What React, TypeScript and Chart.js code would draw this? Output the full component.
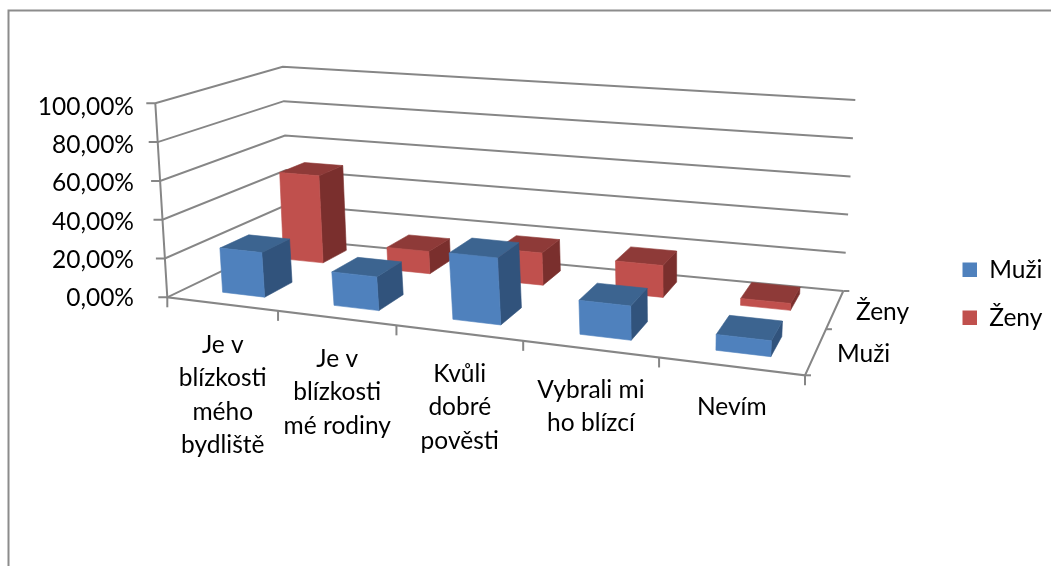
import React, { useEffect, useRef } from "react";
import { Chart, registerables } from "chart.js";

Chart.register(...registerables);

const categories: string[][] = [
  ["Je v", "blízkosti", "mého", "bydliště"],
  ["Je v", "blízkosti", "mé rodiny"],
  ["Kvůli", "dobré", "pověsti"],
  ["Vybrali mi", "ho blízcí"],
  ["Nevím"],
];
const muzi = [23, 17, 33, 16.5, 7.5];
const zeny = [48, 12, 17, 16.5, 3.5];
const seriesNames = ["Muži", "Ženy"];
const tickValues = [0, 20, 40, 60, 80, 100];

const FONT = "Lato";
const FONT_SIZE = 24.5;
const GRID = "#868686";
const FACES = [
  { front: "#4F81BD", top: "#3C6490", side: "#31537C" },
  { front: "#C0504D", top: "#8E3A38", side: "#7A2F2D" },
];
const DEPTH_START = [0.28, 0.36];
const DEPTH_SIZE = 0.45;
const ACROSS_SHIFT = [0.006, -0.002];
type P = [number, number];
// floor and ceiling corners: front-left, front-right, back-right, back-left
const FLOOR: P[] = [[167.3, 297.3], [805, 375.3], [843.3, 291], [288.5, 239]];
const CEIL: P[] = [[155.3, 103.3], [817.5, 157.3], [855.3, 100], [282.7, 66.7]];

function homography(q: P[]) {
  const [[x0, y0], [x1, y1], [x2, y2], [x3, y3]] = q;
  const sx = x0 - x1 + x2 - x3, sy = y0 - y1 + y2 - y3;
  const dx1 = x1 - x2, dy1 = y1 - y2, dx2 = x3 - x2, dy2 = y3 - y2;
  const den = dx1 * dy2 - dx2 * dy1;
  const g = (sx * dy2 - dx2 * sy) / den, h = (dx1 * sy - sx * dy1) / den;
  const a = x1 - x0 + g * x1, b = x3 - x0 + h * x3, d = y1 - y0 + g * y1, e = y3 - y0 + h * y3;
  return (u: number, v: number): P => {
    const w = g * u + h * v + 1;
    return [(a * u + b * v + x0) / w, (d * u + e * v + y0) / w];
  };
}
const floorH = homography(FLOOR);
const ceilH = homography(CEIL);
const project = (u0: number, v: number, z: number): P => {
  const u = u0 + 0.06 * u0 * (1 - u0);
  const f = floorH(u, v), c = ceilH(u, v);
  return [f[0] + (c[0] - f[0]) * z, f[1] + (c[1] - f[1]) * z];
};

const polyline = (ctx: CanvasRenderingContext2D, pts: P[], color: string, width: number) => {
  ctx.beginPath();
  pts.forEach((p, i) => (i ? ctx.lineTo(p[0], p[1]) : ctx.moveTo(p[0], p[1])));
  ctx.strokeStyle = color;
  ctx.lineWidth = width;
  ctx.stroke();
};
const face = (ctx: CanvasRenderingContext2D, pts: P[], color: string) => {
  ctx.beginPath();
  pts.forEach((p, i) => (i ? ctx.lineTo(p[0], p[1]) : ctx.moveTo(p[0], p[1])));
  ctx.closePath();
  ctx.fillStyle = color;
  ctx.strokeStyle = color;
  ctx.lineWidth = 0.6;
  ctx.fill();
  ctx.stroke();
};

const scene3d = {
  id: "scene3d",
  afterLayout(chart: any) {
    const lg = chart.legend;
    const pad = lg.options.labels.padding;
    lg.left = 962.5 - pad;
    lg.top = 257.5 - pad;
    lg.bottom = lg.top + 200;
  },
  beforeDatasetDraw() {
    return false; // the bars are drawn as boxes below, from their own elements
  },
  beforeDatasetsDraw(chart: any) {
    const { ctx, chartArea: ca, scales } = chart;
    const y = scales.y;
    const zOf = (px: number) => (ca.bottom - px) / (ca.bottom - ca.top);
    ctx.save();
    // outer frame
    polyline(ctx, [[8.5, 566], [8.5, 10.5], [1051, 10.5]], "#8C8C8C", 2);
    // walls
    y.ticks.forEach((t: any) => {
      const z = zOf(y.getPixelForValue(t.value));
      const a = project(0, 0, z);
      polyline(ctx, [[a[0] - 9, a[1]], a, project(0, 1, z), project(1, 1, z)], GRID, 2);
    });
    // floor edges and axes
    polyline(ctx, [project(0, 0, 1), project(0, 0, 0), project(1, 0, 0), project(1, 1, 0)], GRID, 2);
    const n = categories.length;
    for (let i = 0; i <= n; i++) {
      const p = project(i / n, 0, 0);
      polyline(ctx, [p, [p[0], p[1] + 10]], GRID, 2);
    }
    for (let s = 0; s <= seriesNames.length; s++) {
      const p = project(1, s / seriesNames.length, 0);
      polyline(ctx, [p, [p[0] + 6, p[1]]], GRID, 2);
    }
    // boxes, back series first
    const W = ca.right - ca.left;
    const S = chart.data.datasets.length;
    for (let s = S - 1; s >= 0; s--) {
      const v0 = (s + DEPTH_START[s]) / S, v1 = (s + DEPTH_START[s] + DEPTH_SIZE) / S;
      chart.getDatasetMeta(s).data.forEach((el: any) => {
        const u0 = (el.x - el.width / 2 - ca.left) / W + ACROSS_SHIFT[s];
        const u1 = (el.x + el.width / 2 - ca.left) / W + ACROSS_SHIFT[s];
        const z = zOf(el.y);
        const c = FACES[s];
        face(ctx, [project(u1, v0, 0), project(u1, v1, 0), project(u1, v1, z), project(u1, v0, z)], c.side);
        face(ctx, [project(u0, v0, z), project(u1, v0, z), project(u1, v1, z), project(u0, v1, z)], c.top);
        face(ctx, [project(u0, v0, 0), project(u1, v0, 0), project(u1, v0, z), project(u0, v0, z)], c.front);
      });
    }
    // category labels
    ctx.fillStyle = "#000";
    ctx.font = `${FONT_SIZE}px ${FONT}`;
    ctx.textAlign = "center";
    ctx.textBaseline = "middle";
    chart.data.labels.forEach((lines: string[], i: number) => {
      const p = project((scales.x.getPixelForValue(i) - ca.left) / W, 0, 0);
      lines.forEach((line, k) => ctx.fillText(line, p[0] + 1, p[1] + 41 + k * 33.5));
    });
    // depth labels
    ctx.textAlign = "left";
    seriesNames.forEach((name, s) => {
      const p = project(1, (s + 0.5) / seriesNames.length, 0);
      ctx.fillText(name, p[0] + 21, p[1] + 2.5);
    });
    ctx.restore();
  },
};

export default function App() {
  const ref = useRef<HTMLCanvasElement>(null);
  useEffect(() => {
    const chart = new Chart(ref.current!, {
      type: "bar",
      data: {
        labels: categories,
        datasets: [
          { label: seriesNames[0], data: muzi, backgroundColor: FACES[0].front, borderWidth: 0 },
          { label: seriesNames[1], data: zeny, backgroundColor: FACES[1].front, borderWidth: 0 },
        ],
      },
      plugins: [scene3d],
      options: {
        animation: false,
        responsive: false,
        grouped: false,
        categoryPercentage: 1,
        barPercentage: 0.385,
        layout: { padding: { top: 107, bottom: 268, left: 0, right: 0 } },
        plugins: {
          tooltip: { enabled: false },
          title: { display: false },
          legend: {
            position: "right",
            align: "start",
            labels: {
              font: { family: FONT, size: FONT_SIZE },
              color: "#000",
              boxWidth: 14.5,
              boxHeight: 14.5,
              padding: 23.5,
            },
          },
        },
        scales: {
          x: { display: false },
          y: {
            min: 0,
            max: 100,
            afterBuildTicks(scale: any) {
              scale.ticks = tickValues.map((value) => ({ value }));
            },
            afterFit(scale: any) {
              scale.width = 142;
            },
            border: { display: false },
            grid: { display: false, drawTicks: false },
            ticks: {
              padding: 8,
              color: "#000",
              font: { family: FONT, size: FONT_SIZE },
              callback: (v: any) => `${Number(v).toFixed(2).replace(".", ",")}%`,
            },
          },
        },
      } as any,
    });
    return () => chart.destroy();
  }, []);
  return (
    <div style={{ position: "fixed", left: 0, top: 0, width: 1051, height: 566, background: "#fff" }}>
      <canvas ref={ref} width={1051} height={566} style={{ display: "block" }} />
    </div>
  );
}
